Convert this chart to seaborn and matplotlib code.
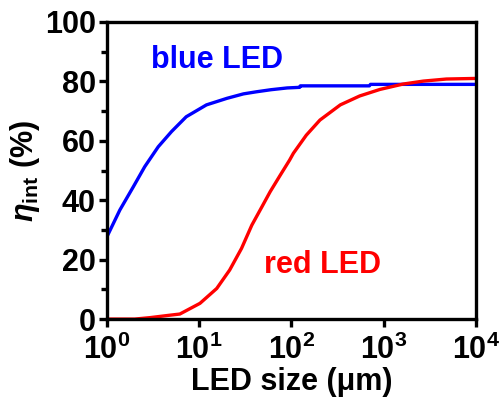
import numpy as np
import pandas as pd
import matplotlib
matplotlib.use("Agg")
import matplotlib.pyplot as plt
import seaborn as sns
from matplotlib.ticker import LogLocator, FixedLocator, FixedFormatter

# values (LED size in um, eta_int in %)
blue_size = [1.0, 1.38, 1.93, 2.57, 3.60, 5.01, 7.24, 12.0, 20.0, 30.2, 41.7, 60.0, 90.0,
             123, 125, 700, 720, 10000]
blue_eta = [27.7, 36.7, 44.5, 51.3, 58.0, 63.1, 68.1, 72.1, 74.3, 75.8, 76.5, 77.2, 77.8,
            78.0, 78.5, 78.5, 79.0, 79.0]
red_size = [1.0, 2.0, 2.95, 4.79, 6.17, 10.2, 15.5, 21.4, 28.8, 37.2, 47.9, 58.9, 75.9, 95.5,
            105, 145, 204, 339, 550, 912, 1620, 2690, 4790, 10000]
red_eta = [0.0, 0.0, 0.5, 1.3, 1.7, 5.3, 10.3, 16.5, 23.8, 31.6, 37.8, 42.9, 48.5, 53.5,
           55.8, 61.9, 67.0, 72.1, 75.1, 77.3, 79.1, 80.1, 80.8, 81.0]

x_ticks = [1, 10, 100, 1000, 10000]
x_labels = ["$10^{0}$", "$10^{1}$", "$10^{2}$", "$10^{3}$", "$10^{4}$"]
y_ticks = [0, 20, 40, 60, 80, 100]

sns.set_style("ticks")
plt.rcParams["font.family"] = ["Liberation Sans", "DejaVu Sans"]
plt.rcParams["font.weight"] = "bold"
plt.rcParams["text.color"] = "black"
plt.rcParams["axes.labelcolor"] = "black"
plt.rcParams["xtick.color"] = "black"
plt.rcParams["ytick.color"] = "black"
plt.rcParams["mathtext.fontset"] = "custom"
plt.rcParams["mathtext.rm"] = "Liberation Sans:bold"
plt.rcParams["mathtext.it"] = "Liberation Sans:italic:bold"
plt.rcParams["mathtext.bf"] = "Liberation Sans:bold"

df = pd.concat([
    pd.DataFrame({"size": blue_size, "eta": blue_eta, "led": "blue"}),
    pd.DataFrame({"size": red_size, "eta": red_eta, "led": "red"}),
])

fig = plt.figure(figsize=(5.02, 4.07), dpi=100)
ax = fig.add_axes([0.213, 0.216, 0.735, 0.73])

sns.lineplot(data=df, x="size", y="eta", hue="led", palette={"blue": "#0000ff", "red": "#ff0000"},
             sort=False, estimator=None, linewidth=2.4, legend=False, ax=ax)

ax.set_xscale("log")
ax.set_xlim(1, 10000)
ax.set_ylim(0, 100)
ax.xaxis.set_major_locator(FixedLocator(x_ticks))
ax.xaxis.set_major_formatter(FixedFormatter(x_labels))
ax.xaxis.set_minor_locator(LogLocator(base=10, subs=[5.0]))
ax.xaxis.set_minor_formatter(plt.NullFormatter())
ax.set_yticks(y_ticks)
ax.set_yticks([10, 30, 50, 70, 90], minor=True)

for s in ax.spines.values():
    s.set_linewidth(2.4)
    s.set_color("black")
ax.tick_params(which="major", length=6, width=2.4, labelsize=22)
ax.tick_params(which="minor", length=4, width=2.4)
ax.tick_params(axis="x", pad=5)
ax.tick_params(axis="y", pad=2)
ax.tick_params(top=False, right=False)
for lbl in ax.get_yticklabels():
    lbl.set_fontweight("bold")

ax.set_xlabel("LED size (μm)", fontsize=22, fontweight="bold", labelpad=1)
ax.set_ylabel("$\\eta_{\\rm int}$ (%)", fontsize=22, fontweight="bold", labelpad=2)

ax.text(3.0, 84.5, "blue LED", color="#0000ff", fontsize=22, fontweight="bold")
ax.text(50, 15.5, "red LED", color="#ff0000", fontsize=22, fontweight="bold")

fig.savefig("out.png", dpi=100)
